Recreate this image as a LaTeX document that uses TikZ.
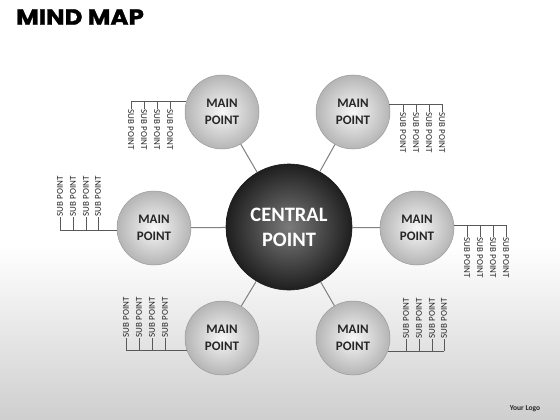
\documentclass[tikz,border=0pt]{standalone}
\usepackage{fontspec}
\setmainfont{Carlito}
\newfontfamily\titlefont{Poppins}[FakeStretch=1.12, FakeBold=1.2]
\definecolor{linkgray}{RGB}{128,128,128}
\definecolor{textgray}{RGB}{38,38,38}

\begin{document}
\begin{tikzpicture}[
    x=1pt, y=-1pt,
    main/.style={
        circle, minimum size=74pt, inner sep=0pt,
        inner color=gray!6, outer color=gray!58,
        draw=gray!80, line width=0.5pt,
        align=center, text=textgray,
        font=\bfseries\fontsize{13}{17}\selectfont
    },
    central/.style={
        circle, minimum size=126pt, inner sep=0pt,
        inner color=black!52, outer color=black!88,
        draw=black!90, line width=0.6pt,
        align=center, text=white,
        font=\bfseries\fontsize{20.5}{25}\selectfont
    },
    link/.style={
        draw=linkgray, line width=1pt
    },
    branch/.style={
        draw=gray!70!black, line width=0.5pt
    },
    sub/.style={
        inner sep=0.5pt, text=textgray,
        font=\fontsize{9}{9}\selectfont
    }
]
    \useasboundingbox (0,0) rectangle (560,420);
    \fill[white] (0,0) rectangle (560,420);
    \shade[top color=white, bottom color=gray!38] (0,245) rectangle (560,420);

    \node[anchor=west, inner sep=0pt] (title) at (16,17)
        {\titlefont\bfseries\fontsize{22}{22}\selectfont MIND MAP};
    \node[text=textgray, inner sep=0pt] (logo) at (525,409)
        {\bfseries\fontsize{7.5}{8}\selectfont Your Logo};

    \node[central] (center) at (289,227) {CENTRAL\\POINT};

    \node[main] (tl) at (222,112) {MAIN\\POINT};
    \node[main] (tr) at (353,112) {MAIN\\POINT};
    \node[main] (ml) at (154,228) {MAIN\\POINT};
    \node[main] (mr) at (417,228) {MAIN\\POINT};
    \node[main] (bl) at (222,338) {MAIN\\POINT};
    \node[main] (br) at (353,338) {MAIN\\POINT};

    \foreach \m in {tl,tr,ml,mr,bl,br}
        \draw[link] (center) -- (\m);

    % sub points, top left
    \coordinate (tlb) at (131,102);
    \draw[branch] (tl.164) -- (tl.164 -| tlb);
    \foreach \x [count=\i] in {131,144,157,170} {
        \node[sub, rotate=-90, anchor=west] (tls\i) at (\x,109) {SUB POINT};
        \draw[branch] (\x,102 |- tl.164) -- (tls\i.west);
    }

    % sub points, top right
    \coordinate (trb) at (442,104);
    \draw[branch] (tr.12) -- (tr.12 -| trb);
    \foreach \x [count=\i] in {403,416,429,442} {
        \node[sub, rotate=-90, anchor=west] (trs\i) at (\x,112) {SUB POINT};
        \draw[branch] (\x,104 |- tr.12) -- (trs\i.west);
    }

    % sub points, left
    \coordinate (mlb) at (60,230);
    \draw[branch] (ml.183) -- (ml.183 -| mlb);
    \foreach \x [count=\i] in {60,73,86,98} {
        \node[sub, rotate=90, anchor=west] (mls\i) at (\x,217) {SUB POINT};
        \draw[branch] (\x,230 |- ml.183) -- (mls\i.west);
    }

    % sub points, right
    \coordinate (mrb) at (506,225);
    \draw[branch] (mr.5) -- (mr.5 -| mrb);
    \foreach \x [count=\i] in {467,480,493,506} {
        \node[sub, rotate=-90, anchor=west] (mrs\i) at (\x,237) {SUB POINT};
        \draw[branch] (\x,225 |- mr.5) -- (mrs\i.west);
    }

    % sub points, bottom left
    \coordinate (blb) at (126,350);
    \draw[branch] (bl.199) -- (bl.199 -| blb);
    \foreach \x [count=\i] in {126,139,152,165} {
        \node[sub, rotate=90, anchor=west] (bls\i) at (\x,338) {SUB POINT};
        \draw[branch] (\x,350 |- bl.199) -- (bls\i.west);
    }

    % sub points, bottom right
    \coordinate (brb) at (444,351);
    \draw[branch] (br.339) -- (br.339 -| brb);
    \foreach \x [count=\i] in {406,419,432,444} {
        \node[sub, rotate=90, anchor=west] (brs\i) at (\x,339) {SUB POINT};
        \draw[branch] (\x,351 |- br.339) -- (brs\i.west);
    }
\end{tikzpicture}
\end{document}
